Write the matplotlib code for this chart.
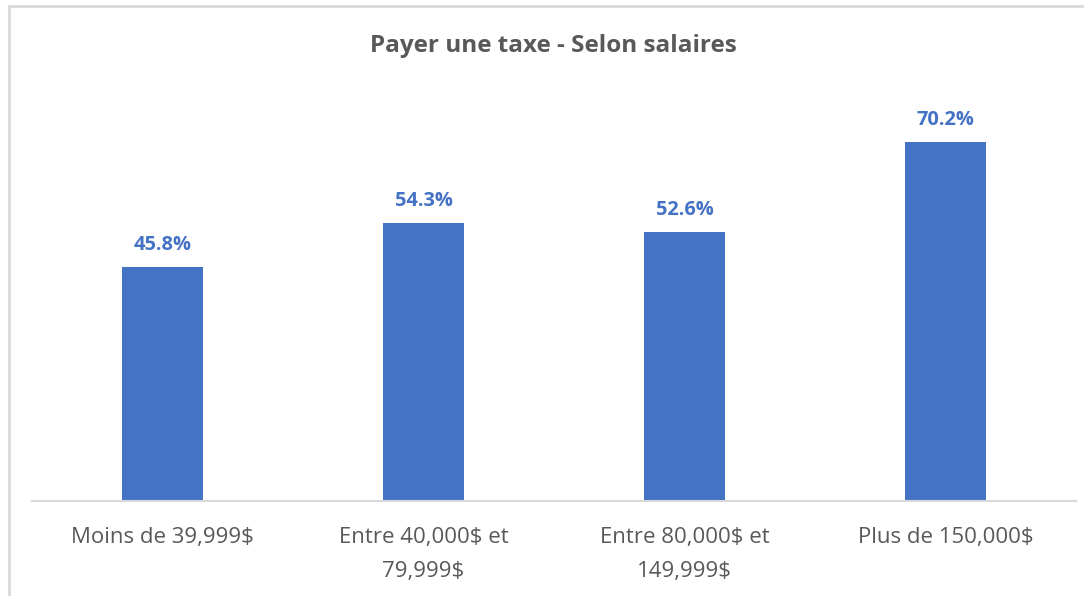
import matplotlib.pyplot as plt
from matplotlib.patches import Rectangle

categories = ['Moins de 39,999$', 'Entre 40,000$ et\n79,999$',
              'Entre 80,000$ et\n149,999$', 'Plus de 150,000$']
values = [45.8, 54.3, 52.6, 70.2]

W, H = 1084, 596
fig = plt.figure(figsize=(W / 100, H / 100), dpi=100)
plt.rcParams['font.family'] = ['Open Sans', 'DejaVu Sans']

# light gray frame of the chart (cropped at right and bottom)
fig.patches.append(Rectangle((9 / W, -0.1), 1.2, 1.1 - 6 / H, transform=fig.transFigure,
                             fill=False, edgecolor='#d9d9d9', linewidth=2))

ax = fig.add_axes([32 / W, (H - 501) / H, (1076 - 32) / W, (501 - 92) / H])
x = range(len(values))
bars = ax.bar(x, values, width=0.31, color='#4472c4')
ax.set_xlim(-0.5, 3.5)
ax.set_ylim(0, 80)

for b, v in zip(bars, values):
    ax.text(b.get_x() + b.get_width() / 2, v + 2.4, f'{v}%', ha='center', va='bottom',
            fontsize=14.4, fontweight='bold', color='#4472c4')

ax.set_xticks(list(x))
ax.set_xticklabels(categories, fontsize=16, color='#595959', linespacing=1.8, va='top')
ax.tick_params(axis='x', length=0, pad=19)
ax.set_yticks([])
for s in ['top', 'right', 'left']:
    ax.spines[s].set_visible(False)
ax.spines['bottom'].set_color('#d9d9d9')
ax.spines['bottom'].set_linewidth(1.5)

fig.text(553 / W, 1 - 46 / H, 'Payer une taxe - Selon salaires', ha='center', va='center',
         fontsize=17.5, fontweight='bold', color='#595959')

fig.savefig('out.png', dpi=100)
